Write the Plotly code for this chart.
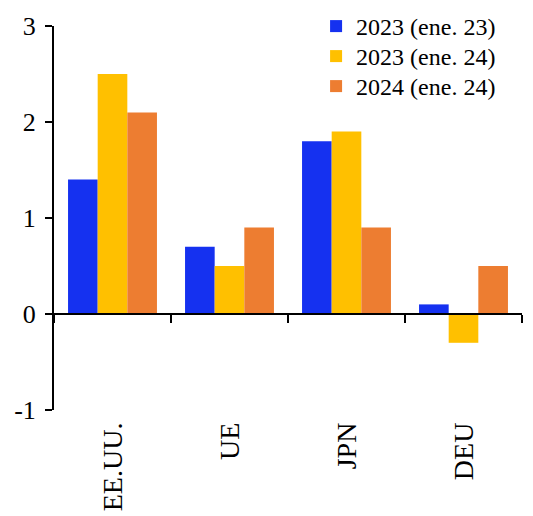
import plotly.graph_objects as go

# Countries / regions on the category axis
categories = ["EE.UU.", "UE", "JPN", "DEU"]

# Growth projections (%) by vintage
series_names = ["2023 (ene. 23)", "2023 (ene. 24)", "2024 (ene. 24)"]
vals_2023_jan23 = [1.4, 0.7, 1.8, 0.1]
vals_2023_jan24 = [2.5, 0.5, 1.9, -0.3]
vals_2024_jan24 = [2.1, 0.9, 0.9, 0.5]
series_values = [vals_2023_jan23, vals_2023_jan24, vals_2024_jan24]
series_colors = ["#1531F0", "#FFC000", "#ED7D31"]

y_tick_values = [-1, 0, 1, 2, 3]
y_tick_labels = ["-1", "0", "1", "2", "3"]

FONT = "Liberation Serif"
W, H = 533, 516
y_min, y_max = y_tick_values[0], y_tick_values[-1]

# one legend box per series so the row spacing can be set tightly
legend_ids = ["legend", "legend2", "legend3"]
LEGEND_TOP_PX, LEGEND_ROW_PX = 4, 30

fig = go.Figure()
for name, vals, color, lid in zip(series_names, series_values, series_colors, legend_ids):
    fig.add_trace(go.Bar(
        x=categories, y=vals, name=name,
        marker=dict(color=color, line=dict(width=0)),
        xaxis="x", yaxis="y", legend=lid,
    ))

# Invisible helper trace so the zero-line axis carries the categories
fig.add_trace(go.Scatter(
    x=categories, y=[0] * len(categories), mode="markers",
    marker=dict(opacity=0), showlegend=False, hoverinfo="skip",
    xaxis="x2", yaxis="y",
))

zero_pos = (0 - y_min) / (y_max - y_min)

legend_layout = {}
for i, lid in enumerate(legend_ids):
    legend_layout[lid] = dict(
        x=0.56, y=1 - (LEGEND_TOP_PX + LEGEND_ROW_PX * i) / H,
        xanchor="left", yanchor="top", yref="container",
        font=dict(family=FONT, size=24, color="black"),
        bgcolor="rgba(0,0,0,0)", itemwidth=30,
    )

fig.update_layout(
    width=W, height=H,
    margin=dict(l=54, r=11, t=26, b=106, autoexpand=False),
    plot_bgcolor="white", paper_bgcolor="white",
    barmode="group", bargap=0.24, bargroupgap=0,
    font=dict(family=FONT, color="black"),
    xaxis=dict(
        type="category", categoryarray=categories, range=[-0.5, len(categories) - 0.5],
        showline=False, ticks="", tickangle=-90, showgrid=False,
        ticklabelstandoff=6, automargin=False,
        tickfont=dict(family=FONT, size=28, color="black"),
    ),
    xaxis2=dict(
        type="category", categoryarray=categories, range=[-0.5, len(categories) - 0.5],
        overlaying="x", anchor="free", position=zero_pos,
        showline=True, linecolor="black", linewidth=2,
        ticks="outside", ticklen=8, tickwidth=2, tickcolor="black",
        tickson="boundaries", showticklabels=False, showgrid=False,
        automargin=False,
    ),
    yaxis=dict(
        range=[y_min, y_max], tickvals=y_tick_values, ticktext=y_tick_labels,
        showline=True, linecolor="black", linewidth=2,
        ticks="outside", ticklen=7, tickwidth=2, tickcolor="black",
        showgrid=False, zeroline=False, ticklabelstandoff=4, automargin=False,
        tickfont=dict(family=FONT, size=26, color="black"),
    ),
    **legend_layout,
)

fig.write_html("out.html")
